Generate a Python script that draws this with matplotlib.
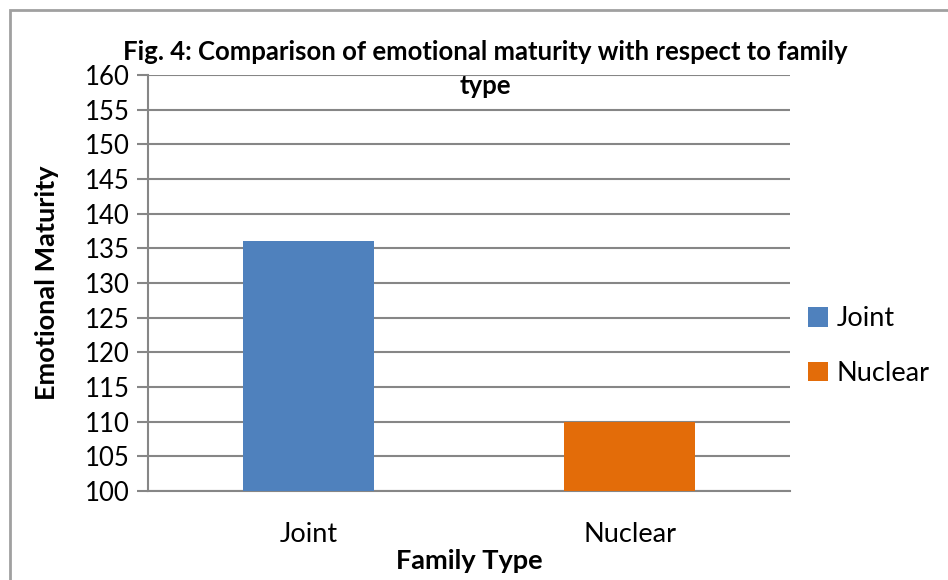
import matplotlib.pyplot as plt
from matplotlib.patches import Rectangle, Patch

categories = ['Joint', 'Nuclear']
values = [136, 110]
colors = ['#4F81BD', '#E36C09']
yticks = list(range(100, 161, 5))

plt.rcParams['font.family'] = ['Lato', 'DejaVu Sans']

fig = plt.figure(figsize=(9.48, 5.8), dpi=100)
ax = fig.add_axes([148 / 948, 1 - 491 / 580, 642 / 948, 416 / 580])

# bars sit on the 100 baseline
ax.bar(range(len(categories)), [v - 100 for v in values], bottom=100,
       width=0.405, color=colors, zorder=3)

ax.set_ylim(100, 160)
ax.set_xlim(-0.5, 1.5)
ax.set_yticks(yticks)
ax.set_yticklabels([str(t) for t in yticks], fontsize=18.5)
ax.set_xticks(range(len(categories)))
ax.set_xticklabels(categories, fontsize=19.5)
ax.tick_params(axis='y', length=8, width=1.5, color='#868686', pad=5)
ax.tick_params(axis='x', length=0, pad=22)
ax.yaxis.grid(True, color='#868686', linewidth=1.5, zorder=0)
ax.set_axisbelow(True)
for s in ['top', 'right']:
    ax.spines[s].set_visible(False)
for s in ['left', 'bottom']:
    ax.spines[s].set_color('#868686')
    ax.spines[s].set_linewidth(1.5)

ax.set_ylabel('Emotional Maturity', fontsize=19.5, fontweight='bold')
ax.yaxis.set_label_coords((59 - 148) / 642, 0.5)
ax.set_xlabel('Family Type', fontsize=19.5, fontweight='bold')
ax.xaxis.set_label_coords(0.5, -(549 - 491) / 416)

fig.text(485 / 948, 1 - 52 / 580, 'Fig. 4: Comparison of emotional maturity with respect to family',
         ha='center', va='center', fontsize=18.5, fontweight='bold')
fig.text(485 / 948, 1 - 86 / 580, 'type', ha='center', va='center',
         fontsize=18.5, fontweight='bold')

handles = [Patch(facecolor=c, edgecolor='none') for c in colors]
fig.legend(handles, categories, loc='center left', bbox_to_anchor=(808 / 948, 1 - 346 / 580),
           frameon=False, fontsize=19.5, handlelength=0.75, handleheight=0.75,
           handletextpad=0.3, labelspacing=1.1, borderpad=0, borderaxespad=0)

fig.patches.append(Rectangle((10 / 948, -0.1), 1.2, 1 - 10 / 580 + 0.1,
                             transform=fig.transFigure, fill=False,
                             edgecolor='#A0A0A0', linewidth=2))

fig.savefig('out.png', dpi=100)
